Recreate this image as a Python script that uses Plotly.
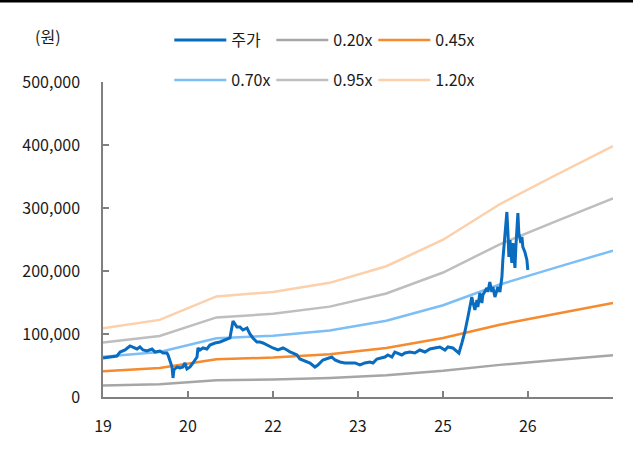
import plotly.graph_objects as go

# ---- data ----
stock_dates = [
    "2019-01-01", "2019-02-15", "2019-04-01", "2019-04-21", "2019-05-23", "2019-06-24", "2019-07-13",
    "2019-08-08", "2019-08-27", "2019-09-16", "2019-10-11", "2019-11-13", "2019-12-02", "2020-01-03",
    "2020-01-23", "2020-02-17", "2020-02-24", "2020-03-08", "2020-03-21", "2020-03-27", "2020-04-02",
    "2020-04-22", "2020-05-11", "2020-05-30", "2020-06-12", "2020-06-25", "2020-07-15", "2020-08-03",
    "2020-08-29", "2020-09-04", "2020-09-17", "2020-10-06", "2020-11-01", "2020-11-20", "2020-12-23",
    "2021-01-24", "2021-02-25", "2021-03-29", "2021-04-11", "2021-04-18", "2021-05-13", "2021-06-02",
    "2021-06-21", "2021-07-17", "2021-08-05", "2021-08-24", "2021-09-19", "2021-10-09", "2021-10-28",
    "2021-11-23", "2021-12-12", "2021-12-31", "2022-02-02", "2022-03-06", "2022-04-01", "2022-04-20",
    "2022-05-09", "2022-06-04", "2022-06-23", "2022-07-25", "2022-08-14", "2022-08-27", "2022-09-28",
    "2022-10-17", "2022-11-18", "2022-12-21", "2023-01-15", "2023-02-04", "2023-03-08", "2023-04-09",
    "2023-05-11", "2023-06-13", "2023-07-15", "2023-08-16", "2023-09-17", "2023-10-07", "2023-11-01",
    "2023-11-21", "2023-12-23", "2024-01-11", "2024-02-06", "2024-02-25", "2024-03-16", "2024-04-10",
    "2024-04-30", "2024-06-01", "2024-07-03", "2024-08-04", "2024-09-06", "2024-10-08", "2024-11-09",
    "2024-12-11", "2025-01-13", "2025-02-01", "2025-03-05", "2025-03-31", "2025-04-13", "2025-05-02",
    "2025-05-21", "2025-06-10", "2025-06-29", "2025-07-05", "2025-07-12", "2025-07-25", "2025-08-07",
    "2025-08-13", "2025-08-26", "2025-09-08", "2025-09-14", "2025-10-10", "2025-10-17", "2025-10-29",
    "2025-11-11", "2025-11-18", "2025-12-01", "2025-12-14", "2025-12-20", "2026-01-02", "2026-01-15",
    "2026-01-21", "2026-01-28", "2026-02-10", "2026-02-16", "2026-02-23", "2026-03-01", "2026-03-08",
    "2026-03-20", "2026-03-27", "2026-04-09", "2026-04-15", "2026-04-22", "2026-04-28", "2026-05-04",
    "2026-05-17", "2026-05-24", "2026-05-30", "2026-06-12", "2026-06-25", "2026-07-01",
]
stock_price = [
    61900, 63500, 65100, 71400, 74600, 81000, 79400,
    76200, 79400, 74600, 73000, 76200, 71400, 73000,
    69800, 69800, 66700, 58700, 47600, 30200, 42900,
    47600, 46000, 47600, 54000, 44400, 47600, 54000,
    63500, 77800, 74600, 77800, 76200, 82500, 85700,
    87300, 90500, 93700, 111100, 120600, 111100, 111100,
    106300, 109500, 100000, 93700, 87300, 87300, 85700,
    82500, 79400, 77800, 74600, 77800, 74600, 71400,
    69800, 66700, 60300, 57100, 55600, 54000, 47600,
    50800, 58700, 61900, 63500, 58700, 55600, 54000,
    54000, 54000, 50800, 54000, 55600, 54000, 60300,
    61900, 63500, 66700, 63500, 71400, 69800, 66700,
    69800, 71400, 69800, 74600, 71400, 76200, 77800,
    79400, 74600, 79400, 77800, 71400, 69800, 85700,
    103200, 127000, 150800, 158700, 150800, 138100, 154000,
    142900, 165100, 149200, 161900, 173000, 166700, 182500,
    166700, 174600, 158700, 169800, 174600, 166700, 190500,
    217500, 238100, 269800, 293700, 260300, 222200, 249200,
    212700, 244400, 204800, 238100, 265100, 292100, 260300,
    244400, 254000, 238100, 230200, 217500, 201600,
]

band_dates = ["2019-01-01", "2020-01-01", "2021-01-01", "2022-01-01", "2023-01-01",
              "2024-01-01", "2025-01-01", "2026-01-01", "2027-01-01", "2028-01-01"]
band_020 = [18200, 20400, 26600, 27800, 30200, 34600, 41600, 51000, 58800, 66400]
band_045 = [40950, 45900, 59850, 62550, 67950, 77850, 93600, 114750, 132300, 149400]
band_070 = [63700, 71400, 93100, 97300, 105700, 121100, 145600, 178500, 205800, 232400]
band_095 = [86450, 96900, 126350, 132050, 143450, 164350, 197600, 242250, 279300, 315400]
band_120 = [109200, 122400, 159600, 166800, 181200, 207600, 249600, 306000, 352800, 398400]

x_tick_vals = ["2019-01-01", "2020-07-01", "2022-01-01", "2023-07-01", "2025-01-01", "2026-07-01", "2028-01-01"]
x_tick_text = ["19", "20", "22", "23", "25", "26", ""]
y_tick_vals = [0, 100000, 200000, 300000, 400000, 500000]
y_tick_text = ["0", "100,000", "200,000", "300,000", "400,000", "500,000"]

FONT = "Noto Sans CJK KR, Malgun Gothic, sans-serif"
TXT = "#1a1a1a"

fig = go.Figure()

bands = [
    ("0.20x", band_020, "#A6A6A6", "legend", 2),
    ("0.45x", band_045, "#F58A2E", "legend", 3),
    ("0.70x", band_070, "#7CBEF5", "legend2", 1),
    ("0.95x", band_095, "#BEBEBE", "legend2", 2),
    ("1.20x", band_120, "#FBD0AA", "legend2", 3),
]
for name, ys, col, lg, rank in bands:
    fig.add_trace(go.Scatter(x=band_dates, y=ys, mode="lines", name=name, legend=lg,
                             line=dict(color=col, width=2.5), legendrank=rank))
fig.add_trace(go.Scatter(x=stock_dates, y=stock_price, mode="lines", name="주가", legend="legend",
                         line=dict(color="#0A6CBF", width=3), legendrank=1))

legend_common = dict(orientation="h", xanchor="left", yanchor="middle",
                     font=dict(family=FONT, size=16, color=TXT), bgcolor="rgba(0,0,0,0)",
                     entrywidth=35, entrywidthmode="pixels", itemwidth=52,
                     traceorder="normal", borderwidth=0)

fig.update_layout(
    width=638, height=451,
    margin=dict(l=103, r=25, t=82, b=54, autoexpand=False),
    paper_bgcolor="white", plot_bgcolor="white",
    font=dict(family=FONT, size=16, color=TXT),
    showlegend=True,
    legend=dict(x=0.13, y=(397 - 40) / 315, **legend_common),
    legend2=dict(x=0.13, y=(397 - 80) / 315, **legend_common),
    xaxis=dict(type="date", range=["2019-01-01", "2028-01-01"],
               tickmode="array", tickvals=x_tick_vals, ticktext=x_tick_text,
               showgrid=False, zeroline=False, showline=True, linecolor="#808080", linewidth=1.5,
               ticks="inside", ticklen=6, tickcolor="#808080", tickwidth=1.5,
               ticklabelstandoff=14, tickfont=dict(family=FONT, size=16, color=TXT)),
    yaxis=dict(range=[0, 500000], tickmode="array", tickvals=y_tick_vals, ticktext=y_tick_text,
               showgrid=False, zeroline=False, showline=True, linecolor="#808080", linewidth=1.5,
               ticks="inside", ticklen=6, tickcolor="#808080", tickwidth=1.5,
               ticklabelstandoff=18, tickfont=dict(family=FONT, size=16, color=TXT)),
    annotations=[dict(text="(원)", xref="paper", yref="paper", x=(48 - 103) / 510, y=(397 - 36) / 315,
                      xanchor="center", yanchor="middle", showarrow=False,
                      font=dict(family=FONT, size=16, color=TXT))],
    shapes=[dict(type="line", xref="paper", yref="paper", x0=-103 / 510, x1=(633 - 103) / 510,
                 y0=(397 - 1) / 315, y1=(397 - 1) / 315, line=dict(color="black", width=3))],
)

fig.write_html("out.html")
